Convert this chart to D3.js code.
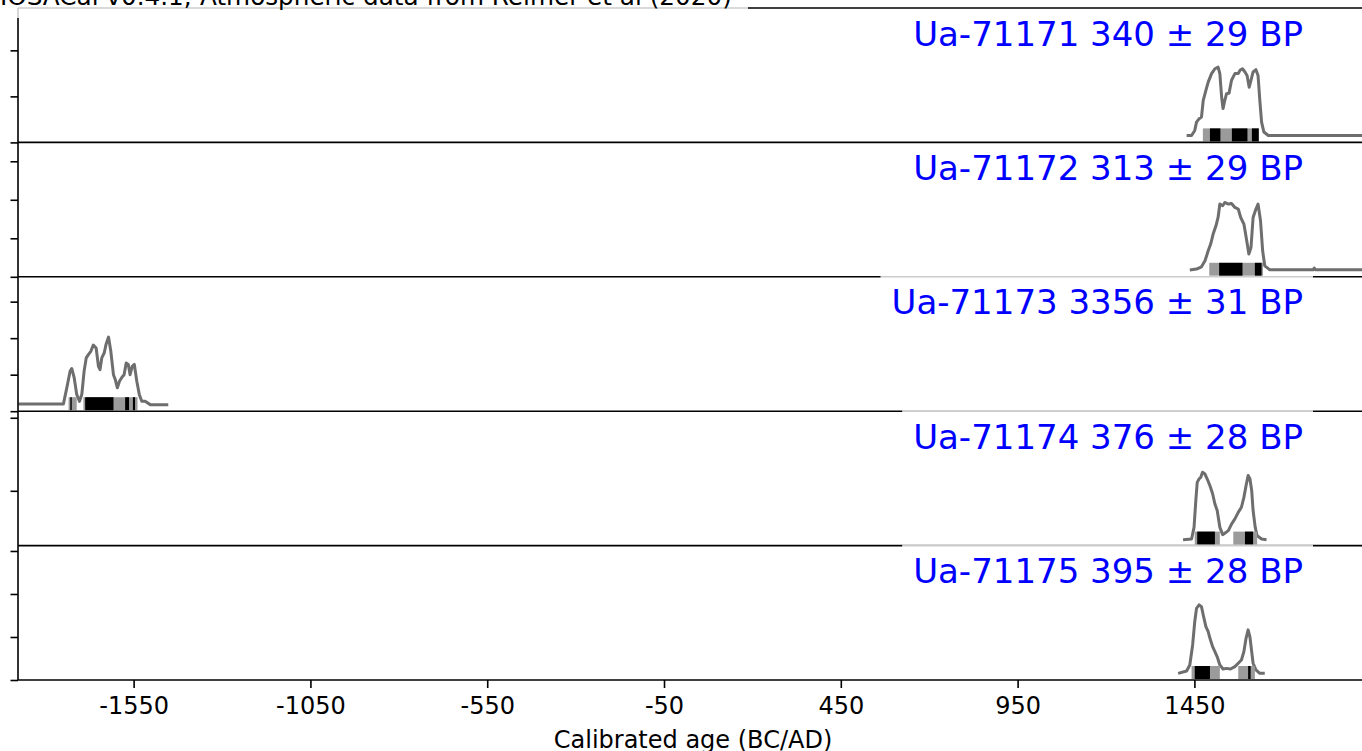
<!DOCTYPE html>
<html>
<head>
<meta charset="utf-8">
<script src="https://cdn.jsdelivr.net/npm/d3@7"></script>
<style>
  body { margin: 0; background: #fff; }
  svg { display: block; font-family: "DejaVu Sans", sans-serif; }
</style>
</head>
<body>
<svg id="chart" width="1362" height="751"></svg>
<script>
// ---- data -------------------------------------------------------------
const titleText = "IOSACal v0.4.1; Atmospheric data from Reimer et al (2020)";
const axisTitle = "Calibrated age (BC/AD)";
const sampleLabels = [
  "Ua-71171 340 \u00b1 29 BP",
  "Ua-71172 313 \u00b1 29 BP",
  "Ua-71173 3356 \u00b1 31 BP",
  "Ua-71174 376 \u00b1 28 BP",
  "Ua-71175 395 \u00b1 28 BP"
];
const yearTicks = [-1550, -1050, -550, -50, 450, 950, 1450];
const yearDomain = [-1877, 1924];

// calibrated probability curves: [calendar year, plotted probability]
const curve71171 = [[1428,0.0003],[1442,0.0003],[1451,0.00052],[1456,0.00088],[1463.5,0.00103],[1470,0.0011],[1475,0.00183],[1482.5,0.00226],[1489,0.00262],[1498.6,0.00299],[1508,0.0032],[1517,0.00327],[1522,0.00299],[1527,0.00197],[1531,0.00147],[1536,0.00183],[1541,0.00212],[1548,0.00214],[1555,0.0027],[1564.5,0.00299],[1574,0.00299],[1579,0.00313],[1586,0.0032],[1593,0.00306],[1599,0.00291],[1605,0.0024],[1610,0.0027],[1616,0.00306],[1624,0.00316],[1630,0.00291],[1635,0.00183],[1640,0.00088],[1646.5,0.00045],[1659,0.0003],[1924,0.0003]];
const curve71172 = [[1437,0.00035],[1456,0.0004],[1470,0.00052],[1480,0.00083],[1489,0.00135],[1496,0.0017],[1503,0.00222],[1511,0.00265],[1517,0.00308],[1522,0.00378],[1530,0.00369],[1536,0.00386],[1546,0.00378],[1555,0.00381],[1564.5,0.0036],[1574,0.00352],[1581,0.00308],[1590,0.00274],[1598,0.00187],[1604,0.00118],[1610,0.00152],[1616,0.00308],[1624,0.00352],[1630,0.00378],[1637,0.00291],[1643,0.00135],[1649,0.00057],[1663.5,0.00036],[1786,0.00036],[1789,0.00045],[1793,0.00036],[1924,0.00036]];
const curve71173 = [[-1876,0.0002],[-1748.5,0.0002],[-1739,0.00064],[-1729.5,0.0011],[-1725,0.00117],[-1718,0.00091],[-1711,0.00046],[-1703,0.00027],[-1696.5,0.00046],[-1690,0.0011],[-1684,0.00146],[-1678,0.00155],[-1671,0.00164],[-1664,0.00181],[-1656,0.00173],[-1649.5,0.00123],[-1645,0.00114],[-1640,0.00146],[-1633,0.0016],[-1628,0.00183],[-1621,0.00203],[-1614.5,0.00164],[-1607,0.001],[-1602,0.00087],[-1596,0.00064],[-1590,0.00082],[-1583,0.00093],[-1577,0.001],[-1571,0.00132],[-1565,0.00128],[-1560,0.001],[-1554,0.00123],[-1548,0.00128],[-1541,0.00082],[-1534,0.00046],[-1527,0.00027],[-1517.5,0.00027],[-1503,0.00018],[-1452,0.00018]];
const curve71174 = [[1418,0.00016],[1442,0.00018],[1449,0.0005],[1454,0.00123],[1458,0.00173],[1463.5,0.00183],[1468,0.00187],[1473,0.00201],[1480,0.00196],[1486,0.00183],[1494,0.00164],[1501.5,0.00142],[1508,0.00114],[1514.5,0.00096],[1522,0.0005],[1530,0.0003],[1536,0.00034],[1546,0.00041],[1555,0.00059],[1564.5,0.00073],[1574,0.00091],[1583,0.00105],[1590,0.00132],[1596,0.00164],[1602,0.00192],[1607,0.00183],[1612,0.00151],[1616,0.00096],[1622,0.0005],[1627.5,0.00027],[1640,0.00018],[1654,0.00016]];
const curve71175 = [[1404,0.00031],[1428,0.00042],[1437,0.0007],[1445,0.00163],[1451,0.00271],[1456,0.00333],[1463.5,0.00349],[1470,0.00341],[1475,0.00302],[1482.5,0.00248],[1489,0.00225],[1494,0.00194],[1501.5,0.00155],[1508,0.00132],[1514.5,0.00108],[1522,0.0007],[1531,0.00051],[1541,0.00054],[1552,0.00051],[1564.5,0.00062],[1574,0.00078],[1583,0.00093],[1590,0.00132],[1596,0.00194],[1602,0.00233],[1607,0.00201],[1612,0.00132],[1616,0.00078],[1624,0.00047],[1635,0.00031],[1649,0.00031]];

// highest-density ranges, [from, to] in calendar years
const hpd95_71171 = [[1474,1632]];
const hpd68_71171 = [[1494,1523.5],[1556,1600],[1612.6,1632]];
const hpd95_71172 = [[1492,1644]];
const hpd68_71172 = [[1520,1586],[1621,1640]];
const hpd95_71173 = [[-1734,-1711],[-1692,-1539]];
const hpd68_71173 = [[-1729,-1725],[-1687,-1607],[-1574,-1563],[-1552,-1546]];
const hpd95_71174 = [[1451,1522],[1560,1627.5]];
const hpd68_71174 = [[1458,1508],[1593,1616]];
const hpd95_71175 = [[1442,1522],[1574,1621]];
const hpd68_71175 = [[1451,1494],[1602,1609]];

// vertical axis extent and tick values of each panel
const densityTop = [0.00584, 0.00698, 0.00368, 0.00368, 0.00625];
const densityTicks = [
  [0, 0.002, 0.004],
  [0, 0.002, 0.004, 0.006],
  [0, 0.001, 0.002, 0.003],
  [0.0015, 0.0035],
  [0, 0.002, 0.004, 0.006]
];

const curves = [curve71171, curve71172, curve71173, curve71174, curve71175];
const hpd95 = [hpd95_71171, hpd95_71172, hpd95_71173, hpd95_71174, hpd95_71175];
const hpd68 = [hpd68_71171, hpd68_71172, hpd68_71173, hpd68_71174, hpd68_71175];

// ---- layout -----------------------------------------------------------
const plotLeft = 18, plotRight = 1362, plotTop = 8, plotBottom = 680;
const nPanels = sampleLabels.length;
const panelH = (plotBottom - plotTop) / nPanels;
const spineW = 1.6;
// offset of each label box's upper edge below its panel's upper spine
const labelBoxInset = [2, 2, -1, -1, -1];

const svg = d3.select("#chart");
const x = d3.scaleLinear().domain(yearDomain).range([plotLeft, plotRight]);

svg.append("defs").append("clipPath").attr("id", "plotArea")
  .append("rect").attr("x", plotLeft).attr("y", plotTop)
  .attr("width", plotRight - plotLeft).attr("height", plotBottom - plotTop);

// top spine
svg.append("line")
  .attr("x1", plotLeft).attr("x2", plotRight).attr("y1", plotTop).attr("y2", plotTop)
  .attr("stroke", "#000").attr("stroke-width", spineW);

const panelsG = svg.append("g");
const labelsG = svg.append("g");

for (let i = 0; i < nPanels; i++) {
  const pTop = plotTop + i * panelH;
  const pBot = plotTop + (i + 1) * panelH;
  const y = d3.scaleLinear().domain([0, densityTop[i]]).range([pBot, pTop]);
  const g = panelsG.append("g");

  const line = d3.line().x(d => x(d[0])).y(d => y(d[1]));
  g.append("path")
    .datum(curves[i])
    .attr("clip-path", "url(#plotArea)")
    .attr("d", line)
    .attr("fill", "none")
    .attr("stroke", "#6e6e6e")
    .attr("stroke-width", 3)
    .attr("stroke-linejoin", "round");

  // HPD ranges: 95% in grey, 68% in black on top
  const barY = pBot - 14, barH = 13;
  g.selectAll("rect.h95").data(hpd95[i]).join("rect")
    .attr("class", "h95")
    .attr("x", d => x(d[0])).attr("width", d => x(d[1]) - x(d[0]))
    .attr("y", barY).attr("height", barH).attr("fill", "#9b9b9b");
  g.selectAll("rect.h68").data(hpd68[i]).join("rect")
    .attr("class", "h68")
    .attr("x", d => x(d[0])).attr("width", d => x(d[1]) - x(d[0]))
    .attr("y", barY).attr("height", barH).attr("fill", "#000");

  // y ticks (unlabelled)
  const ax = g.append("g")
    .attr("transform", `translate(${plotLeft},0)`)
    .call(d3.axisLeft(y).tickValues(densityTicks[i]).tickSize(7.5).tickFormat(""));
  ax.select(".domain").remove();
  ax.selectAll(".tick line").attr("stroke", "#000").attr("stroke-width", spineW);

  // lower spine of the panel
  g.append("line")
    .attr("x1", plotLeft).attr("x2", plotRight)
    .attr("y1", pBot).attr("y2", pBot)
    .attr("stroke", "#000").attr("stroke-width", spineW);

  // sample label with a translucent white box
  const lg = labelsG.append("g");
  const t = lg.append("text")
    .attr("x", 1303).attr("y", pTop + 37.5)
    .attr("text-anchor", "end")
    .attr("font-size", 34)
    .attr("fill", "#0000ff")
    .text(sampleLabels[i]);
  const bb = t.node().getBBox();
  const boxTop = pTop + labelBoxInset[i];
  lg.insert("rect", "text")
    .attr("x", bb.x - 11).attr("width", bb.width + 21)
    .attr("y", boxTop).attr("height", bb.y + bb.height + 8 - boxTop)
    .attr("fill", "#fff").attr("fill-opacity", 0.8);
}

// x axis
const xAx = svg.append("g")
  .attr("transform", `translate(0,${plotBottom})`)
  .call(d3.axisBottom(x).tickValues(yearTicks).tickSize(8).tickPadding(9).tickFormat(d3.format("d")));
xAx.select(".domain").remove();
xAx.selectAll(".tick line").attr("stroke", "#000").attr("stroke-width", spineW);
xAx.selectAll(".tick text")
  .attr("font-family", "DejaVu Sans, sans-serif")
  .attr("font-size", 24).attr("fill", "#000")
  .text(d => d < 0 ? "-" + Math.abs(d) : String(d));

svg.append("text")
  .attr("x", (plotLeft + plotRight) / 2 + 3).attr("y", 748)
  .attr("text-anchor", "middle").attr("font-size", 24).attr("fill", "#000")
  .text(axisTitle);

// left spine
svg.append("line")
  .attr("x1", plotLeft).attr("x2", plotLeft).attr("y1", plotTop).attr("y2", plotBottom)
  .attr("stroke", "#000").attr("stroke-width", spineW);

// title with translucent box
const titleG = svg.append("g");
titleG.append("text")
  .attr("x", 0).attr("y", 5)
  .attr("font-size", 24.7).attr("fill", "#000")
  .text(titleText);
titleG.insert("rect", "text")
  .attr("x", -10).attr("y", -20).attr("width", 758).attr("height", 38)
  .attr("fill", "#fff").attr("fill-opacity", 0.8);
</script>
</body>
</html>
